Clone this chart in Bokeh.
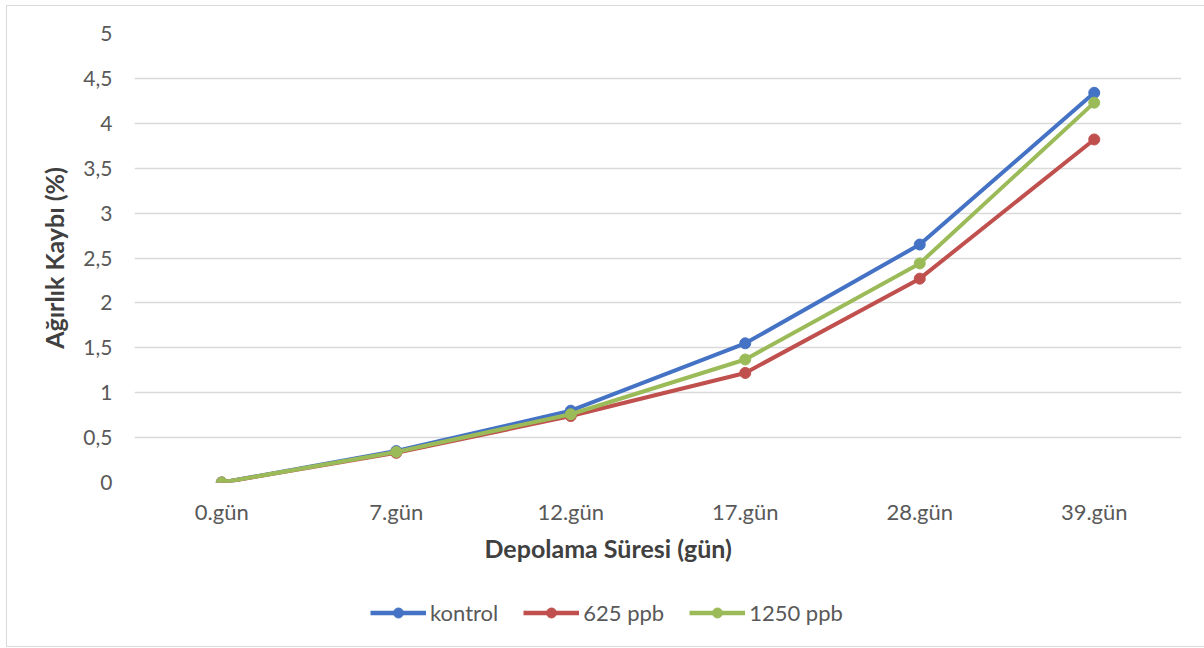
from bokeh.plotting import figure
from bokeh.layouts import column
from bokeh.models import (FactorRange, Range1d, FixedTicker, CustomJSTickFormatter,
                          Legend, LegendItem, Title)
from bokeh.embed import file_html
from bokeh.resources import INLINE

# Storage time categories and weight-loss values (%)
days = ["0.gün", "7.gün", "12.gün", "17.gün", "28.gün", "39.gün"]
kontrol = [0.00, 0.35, 0.80, 1.55, 2.65, 4.34]
ppb_625 = [0.00, 0.33, 0.74, 1.22, 2.27, 3.82]
ppb_1250 = [0.00, 0.34, 0.76, 1.37, 2.44, 4.23]
y_ticks = [0, 0.5, 1, 1.5, 2, 2.5, 3, 3.5, 4, 4.5, 5]

series = [
    ("kontrol", kontrol, "#4472C4"),
    ("625 ppb", ppb_625, "#C0504D"),
    ("1250 ppb", ppb_1250, "#9BBB59"),
]

FONT = "Lato"
TICK_COLOR = "#595959"
TITLE_COLOR = "#404040"
W = 1197
H_MAIN = 576
H_LEGEND = 64

p = figure(
    x_range=FactorRange(*days, range_padding=0),
    y_range=Range1d(0, 5),
    width=W, height=H_MAIN,
    output_backend="svg", toolbar_location=None,
    min_border_left=127, min_border_right=23,
    min_border_top=27, min_border_bottom=H_MAIN - 476,
)
p.outline_line_color = None
p.background_fill_color = "white"
p.border_fill_color = "white"

# grid
p.xgrid.grid_line_color = None
p.ygrid.grid_line_color = "#d9d9d9"
p.ygrid.grid_line_width = 1.5

# y axis
p.yaxis.ticker = FixedTicker(ticks=y_ticks)
p.yaxis.formatter = CustomJSTickFormatter(code="return tick.toString().replace('.', ',');")
p.yaxis.axis_line_color = None
p.yaxis.major_tick_line_color = None
p.yaxis.minor_tick_line_color = None
p.yaxis.major_tick_out = 0
p.yaxis.major_label_standoff = 22
p.yaxis.major_label_text_font = FONT
p.yaxis.major_label_text_font_size = "21px"
p.yaxis.major_label_text_color = TICK_COLOR
p.yaxis.axis_label = "Ağırlık Kaybı (%)"
p.yaxis.axis_label_text_font = FONT
p.yaxis.axis_label_text_font_size = "25px"
p.yaxis.axis_label_text_font_style = "bold"
p.yaxis.axis_label_text_color = TITLE_COLOR
p.yaxis.axis_label_standoff = 11

# x axis
p.xaxis.axis_line_color = None
p.xaxis.major_tick_line_color = None
p.xaxis.minor_tick_line_color = None
p.xaxis.major_tick_out = 0
p.xaxis.major_label_standoff = 15
p.xaxis.major_label_text_font = FONT
p.xaxis.major_label_text_font_size = "22px"
p.xaxis.major_label_text_color = TICK_COLOR
p.xaxis.axis_label = None

p.add_layout(Title(text="Depolama Süresi (gün)", align="left", offset=350,
                   text_font=FONT, text_font_size="25px", text_font_style="bold",
                   text_color=TITLE_COLOR, standoff=7), "below")

for name, vals, color in series:
    p.line(days, vals, line_color=color, line_width=4)
    p.scatter(days, vals, marker="circle", size=11, fill_color=color, line_color=color)

# legend strip underneath: the same series, out of its visible y window
leg_fig = figure(
    x_range=FactorRange(*days, range_padding=0),
    y_range=Range1d(100, 101),
    width=W, height=H_LEGEND,
    output_backend="svg", toolbar_location=None,
    min_border=0, x_axis_location=None, y_axis_location=None,
)
leg_fig.grid.visible = False
leg_fig.outline_line_color = None
leg_fig.background_fill_color = "white"
leg_fig.border_fill_color = "white"

items = []
for name, vals, color in series:
    ln = leg_fig.line(days, vals, line_color=color, line_width=4.5)
    sc = leg_fig.scatter(days, vals, marker="circle", size=11, fill_color=color, line_color=color)
    items.append(LegendItem(label=name, renderers=[ln, sc]))

legend = Legend(items=items, orientation="horizontal", location=(236, 20),
                glyph_width=56, glyph_height=25, label_standoff=4, spacing=25,
                padding=0, margin=0, border_line_color=None, background_fill_alpha=0,
                label_text_font=FONT, label_text_font_size="22px",
                label_text_color=TICK_COLOR)
leg_fig.add_layout(legend, "center")

layout = column(p, leg_fig, spacing=0)
layout.styles = {
    "margin-left": "6px", "margin-top": "5px",
    "border-left": "1px solid #d9d9d9",
    "border-top": "1px solid #d9d9d9",
    "border-bottom": "1px solid #d9d9d9",
}

open("out.html", "w").write(file_html(layout, INLINE))
